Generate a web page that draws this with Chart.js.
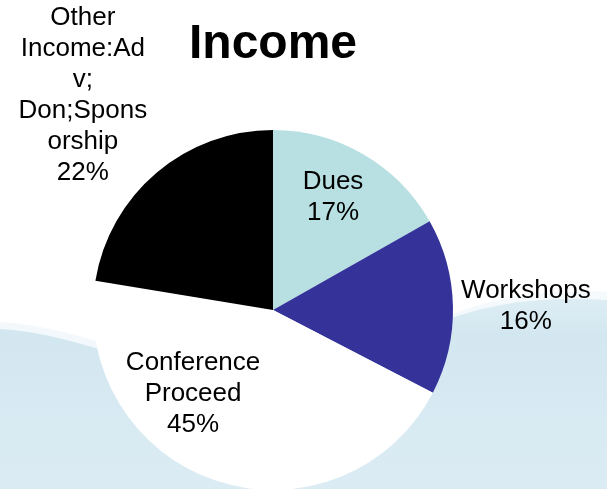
<!DOCTYPE html>
<html>
<head>
<meta charset="utf-8">
<script src="https://cdn.jsdelivr.net/npm/chart.js@4.4.0/dist/chart.umd.min.js"></script>
<style>
  html, body { margin: 0; padding: 0; width: 607px; height: 489px; overflow: hidden; background: #fff; }
  #wrap { position: absolute; left: 0; top: 0; width: 607px; height: 500px; }
</style>
</head>
<body>
<div id="wrap"><canvas id="chart"></canvas></div>
<script>
// --- data ---
const categories = ['Dues', 'Workshops', 'Conference Proceed', 'Other Income:Adv; Don;Sponsorship'];
const values     = [16.8, 15.8, 45.0, 22.4];
const labelLines = [['Dues'], ['Workshops'], ['Conference', 'Proceed'], ['Other', 'Income:Ad', 'v;', 'Don;Spons', 'orship']];
const titleText  = 'Income';

// --- style ---
const colors   = ['#b8e0e2', '#353399', '#ffffff', '#000000'];
// label anchor per slice: [angle from top in degrees, distance as fraction of radius]
const labelPos = [[28, 0.71], [89.1, 1.405], [223.6, 0.644], [318.5, 1.594]];
const FONT = "'Liberation Sans', Arial, sans-serif";

const bgPlugin = {
  id: 'bg',
  beforeDraw(chart) {
    const ctx = chart.ctx;
    ctx.save();
    ctx.fillStyle = '#fff';
    ctx.fillRect(0, 0, chart.width, chart.height);
    const g = ctx.createLinearGradient(0, 280, 0, 500);
    g.addColorStop(0, '#e2f0f6');
    g.addColorStop(0.25, '#d3e7f0');
    g.addColorStop(1, '#dcecf4');
    ctx.fillStyle = g;
    ctx.beginPath();
    ctx.moveTo(0, 322);
    ctx.bezierCurveTo(40, 324, 80, 336, 120, 348);
    ctx.lineTo(420, 330);
    ctx.bezierCurveTo(470, 302, 530, 288, 607, 292);
    ctx.lineTo(607, 500);
    ctx.lineTo(0, 500);
    ctx.closePath();
    ctx.fill();
    // soft highlight near the wave crest
    ctx.strokeStyle = 'rgba(255,255,255,0.7)';
    ctx.lineWidth = 8;
    ctx.beginPath();
    ctx.moveTo(0, 325);
    ctx.bezierCurveTo(40, 327, 80, 339, 120, 351);
    ctx.moveTo(440, 318);
    ctx.bezierCurveTo(490, 299, 540, 292, 607, 296);
    ctx.stroke();
    ctx.restore();
  }
};

const textPlugin = {
  id: 'texts',
  afterDraw(chart) {
    const ctx = chart.ctx;
    const arc0 = chart.getDatasetMeta(0).data[0];
    const cx = arc0.x, cy = arc0.y, r = arc0.outerRadius;
    const total = values.reduce((a, b) => a + b, 0);
    ctx.save();
    ctx.fillStyle = '#000';
    ctx.textAlign = 'center';
    ctx.textBaseline = 'alphabetic';
    ctx.font = 'bold 48px ' + FONT;
    ctx.fillText(titleText, 273, 58);

    ctx.font = '26px ' + FONT;
    ctx.textBaseline = 'middle';
    const lh = 31;
    values.forEach((v, i) => {
      const lines = labelLines[i].concat([Math.round(v / total * 100) + '%']);
      const a = labelPos[i][0] * Math.PI / 180;
      const d = labelPos[i][1] * r;
      const x = cx + Math.sin(a) * d;
      const y = cy - Math.cos(a) * d;
      const y0 = y - (lines.length - 1) * lh / 2;
      lines.forEach((t, k) => ctx.fillText(t, x, y0 + k * lh));
    });
    ctx.restore();
  }
};

new Chart(document.getElementById('chart'), {
  type: 'pie',
  data: {
    labels: categories,
    datasets: [{ data: values, backgroundColor: colors, borderWidth: 0 }]
  },
  options: {
    responsive: true,
    maintainAspectRatio: false,
    animation: false,
    layout: { padding: { top: 130, bottom: 10, left: 93, right: 154 } },
    plugins: { legend: { display: false }, tooltip: { enabled: false }, title: { display: false } }
  },
  plugins: [bgPlugin, textPlugin]
});
</script>
</body>
</html>
